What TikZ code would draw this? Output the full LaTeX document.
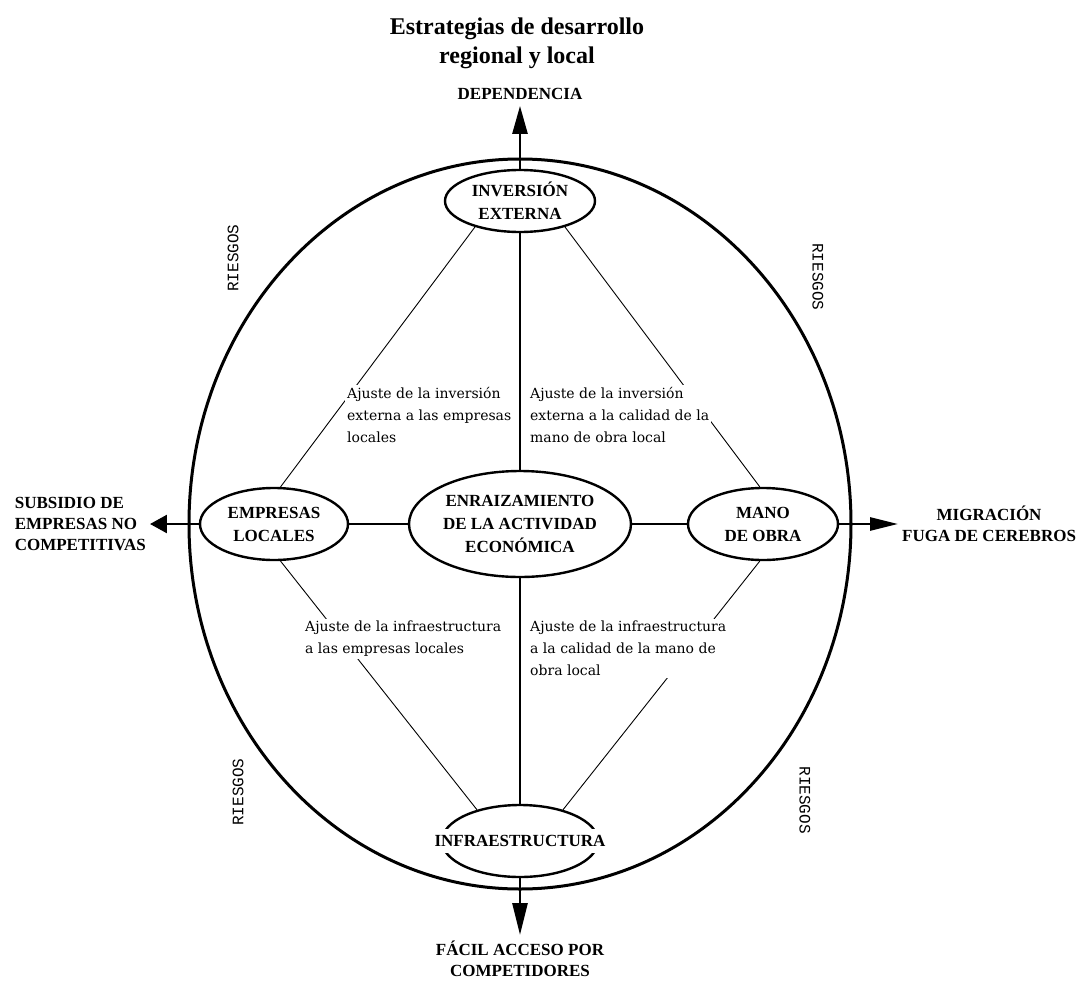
\documentclass[tikz,border=0pt]{standalone}
\usepackage{fontspec}
\setmainfont{Liberation Serif}
\newfontfamily\adjfont{DejaVu Serif}
\newfontfamily\riskfont{Liberation Mono}
\usetikzlibrary{shapes.geometric,arrows.meta}
\pgfdeclarelayer{edgelayer}
\pgfdeclarelayer{nodelayer}
\pgfsetlayers{edgelayer,nodelayer,main}
\tikzstyle{frame}=[ellipse,draw,line width=3pt,minimum width=662pt,minimum height=730pt,inner sep=0pt]
\tikzstyle{oval}=[ellipse,draw,line width=2.4pt,inner sep=0pt,align=center,font=\fontsize{17}{23}\selectfont\bfseries]
\tikzstyle{bare}=[fill=white,inner xsep=2pt,inner ysep=6pt,font=\fontsize{17}{23}\selectfont\bfseries]
\tikzstyle{outside}=[inner sep=4pt,align=center,font=\fontsize{17}{21}\selectfont\bfseries]
\tikzstyle{heading}=[align=center,font=\fontsize{24}{29}\selectfont\bfseries]
\tikzstyle{adjust}=[fill=white,inner sep=2pt,align=left,anchor=north west,font=\adjfont\fontsize{14}{22}\selectfont]
\tikzstyle{risk}=[inner sep=0pt,font=\riskfont\fontsize{16}{16}\selectfont]
\tikzstyle{link}=[line width=1.3pt]
\tikzstyle{diag}=[line width=0.9pt]
\tikzstyle{push}=[line width=2.6pt]

\begin{document}
\begin{tikzpicture}[x=1pt,y=1pt]
	\useasboundingbox (-520,-462) rectangle (571,524);
	\begin{pgfonlayer}{nodelayer}
		\node [style=frame] (0) at (0, 0) {};
		\node [style=oval, minimum width=150pt, minimum height=62pt] (1) at (0, 323) {INVERSIÓN\\EXTERNA};
		\node [style=oval, minimum width=148pt, minimum height=72pt] (2) at (-246, 0) {EMPRESAS\\LOCALES};
		\node [style=oval, minimum width=222pt, minimum height=106pt] (3) at (0, 0) {ENRAIZAMIENTO\\DE LA ACTIVIDAD\\ECONÓMICA};
		\node [style=oval, minimum width=150pt, minimum height=72pt] (4) at (243, 0) {MANO\\DE OBRA};
		\node [style=oval, minimum width=156pt, minimum height=72pt] (5) at (0, -317) {};
		\node [style=bare] (6) at (0, -317) {INFRAESTRUCTURA};
		\node [style=heading] (7) at (-3, 481) {Estrategias de desarrollo\\regional y local};
		\node [style=outside, inner sep=6pt] (8) at (0, 430) {DEPENDENCIA};
		\node [style=outside, align=left, anchor=east] (9) at (-370, 0) {SUBSIDIO DE\\EMPRESAS NO\\COMPETITIVAS};
		\node [style=outside, anchor=west] (10) at (378, 0) {MIGRACIÓN\\FUGA DE CEREBROS};
		\node [style=outside, anchor=north, inner sep=6pt] (11) at (0, -411) {FÁCIL ACCESO POR\\COMPETIDORES};
		\node [style=adjust] (12) at (-175, 139) {Ajuste de la inversión\\externa a las empresas\\locales};
		\node [style=adjust] (13) at (8, 139) {Ajuste de la inversión\\externa a la calidad de la\\mano de obra local};
		\node [style=adjust] (14) at (-217, -95) {Ajuste de la infraestructura\\a las empresas locales};
		\node [style=adjust] (15) at (8, -95) {Ajuste de la infraestructura\\a la calidad de la mano de\\obra local};
		\node [style=risk, rotate=90] (16) at (-287, 266) {RIESGOS};
		\node [style=risk, rotate=-90] (17) at (298, 247) {RIESGOS};
		\node [style=risk, rotate=90] (18) at (-282, -268) {RIESGOS};
		\node [style=risk, rotate=-90] (19) at (285, -276) {RIESGOS};
	\end{pgfonlayer}
	\begin{pgfonlayer}{edgelayer}
		\draw [style=link] (1) to (3);
		\draw [style=link] (3) to (5);
		\draw [style=link] (2) to (3);
		\draw [style=link] (3) to (4);
		\draw [style=diag] (1.210) to (2.80);
		\draw [style=diag] (1.330) to (4.95);
		\draw [style=diag] (2.280) to (5.144);
		\draw [style=diag] (4.265) to (5.36);
		\draw [style=push, -{Triangle[length=28pt,width=15pt]}] (1) to (8);
		\draw [style=push, -{Triangle[length=17pt,width=18pt]}] (2) to (9);
		\draw [style=push, -{Triangle[length=28pt,width=13pt]}] (4) to (10);
		\draw [style=push, -{Triangle[length=32pt,width=15pt]}] (5) to (11);
	\end{pgfonlayer}
\end{tikzpicture}
\end{document}
